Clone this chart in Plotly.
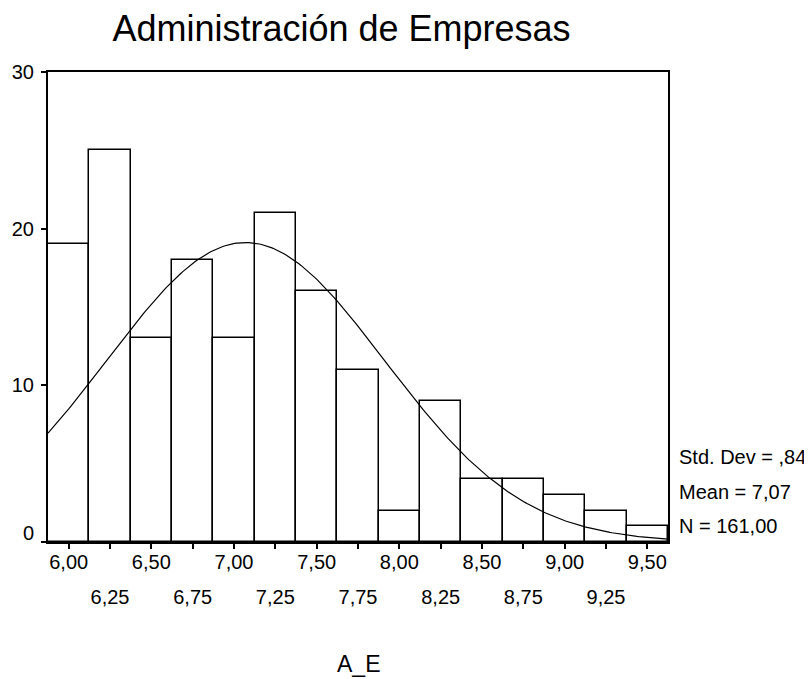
import numpy as np
import plotly.graph_objects as go

# ---- data ----
bin_centers = [6.00, 6.25, 6.50, 6.75, 7.00, 7.25, 7.50, 7.75, 8.00, 8.25, 8.50, 8.75, 9.00, 9.25, 9.50]
counts = [19, 25, 13, 18, 13, 21, 16, 11, 2, 9, 4, 4, 3, 2, 1]
bin_width = 0.25
std_dev = 0.84
mean = 7.07
n_total = 161

row1_ticks = [6.00, 6.50, 7.00, 7.50, 8.00, 8.50, 9.00, 9.50]
row1_text = ["6,00", "6,50", "7,00", "7,50", "8,00", "8,50", "9,00", "9,50"]
row2_ticks = [6.25, 6.75, 7.25, 7.75, 8.25, 8.75, 9.25]
row2_text = ["6,25", "6,75", "7,25", "7,75", "8,25", "8,75", "9,25"]
y_ticks = [0, 10, 20, 30]
y_tick_text = ["0", "10", "20", "30"]

stats_lines = ["Std. Dev = ,84", "Mean = 7,07", "N = 161,00"]

x_range = [bin_centers[0] - bin_width / 2, bin_centers[-1] + bin_width / 2]

# fitted normal curve from the chart's stated mean / std. dev / N
curve_x = np.linspace(x_range[0], x_range[1], 300)
curve_y = n_total * bin_width / (std_dev * np.sqrt(2 * np.pi)) * np.exp(-0.5 * ((curve_x - mean) / std_dev) ** 2)

FONT = "Arial, 'Liberation Sans', sans-serif"

# page body has an 8px margin, so the figure is 8px smaller than the window
W, H = 804, 671
L, T, PW, PH = 40, 64, 620, 470

fig = go.Figure()
fig.add_trace(go.Bar(
    x=bin_centers, y=counts, width=bin_width,
    marker=dict(color="white", line=dict(color="black", width=1.5)),
    showlegend=False, hoverinfo="x+y",
))
fig.add_trace(go.Scatter(
    x=curve_x, y=curve_y, mode="lines",
    line=dict(color="black", width=1.2), showlegend=False, hoverinfo="skip",
))
# invisible trace to hold the second row of x tick labels
fig.add_trace(go.Scatter(x=[row2_ticks[0]], y=[0], xaxis="x2", mode="markers",
                         marker=dict(opacity=0), showlegend=False, hoverinfo="skip"))

# the "0" label sits a little above its tick in the reference; drawn separately
y_labels_on_axis = ["" if v == 0 else t for v, t in zip(y_ticks, y_tick_text)]

fig.update_layout(
    width=W, height=H,
    margin=dict(l=L, r=W - L - PW, t=T, b=H - T - PH, pad=0, autoexpand=False),
    paper_bgcolor="white", plot_bgcolor="white",
    font=dict(family=FONT, color="black", size=20),
    bargap=0,
    title=dict(text="Administración de Empresas", x=333.5 / W, xanchor="center",
               y=1 - 20.5 / H, yanchor="middle", yref="container", automargin=False,
               font=dict(size=36, family=FONT, color="black")),
    xaxis=dict(range=x_range, tickvals=row1_ticks + row2_ticks,
               ticktext=row1_text + [""] * len(row2_text),
               ticks="outside", ticklen=5, tickwidth=1.5, tickcolor="black",
               showline=True, linewidth=2, linecolor="black", mirror=True,
               showgrid=False, zeroline=False, ticklabelstandoff=-4, automargin=False,
               tickfont=dict(size=20, family=FONT)),
    xaxis2=dict(range=x_range, overlaying="x", anchor="y", side="bottom",
                tickvals=row2_ticks, ticktext=row2_text, ticks="",
                showline=False, showgrid=False, zeroline=False,
                ticklabelstandoff=41, automargin=False,
                tickfont=dict(size=20, family=FONT)),
    yaxis=dict(range=[0, 30], tickvals=y_ticks, ticktext=y_labels_on_axis,
               ticks="outside", ticklen=5, tickwidth=1.5, tickcolor="black",
               showline=True, linewidth=2, linecolor="black", mirror=True,
               showgrid=False, zeroline=False, ticklabelstandoff=3, automargin=False,
               tickfont=dict(size=20, family=FONT)),
)

fig.add_annotation(text=y_tick_text[0], xref="paper", yref="y", x=0, y=y_ticks[0],
                   xanchor="right", yanchor="middle", xshift=-12, yshift=9,
                   showarrow=False, font=dict(size=20, family=FONT, color="black"))

stat_y_px = [448.5, 483.5, 518]
for txt, ypx in zip(stats_lines, stat_y_px):
    fig.add_annotation(text=txt, xref="paper", yref="paper", x=(668.7 - L) / PW,
                       y=(T + PH - ypx) / PH, xanchor="left", yanchor="middle", showarrow=False,
                       font=dict(size=20, family=FONT, color="black"))

fig.add_annotation(text="A_E", xref="paper", yref="paper", x=0.5, y=(T + PH - 655.5) / PH,
                   xanchor="center", yanchor="middle", showarrow=False,
                   font=dict(size=23, family=FONT, color="black"))

fig.write_html("out.html")
